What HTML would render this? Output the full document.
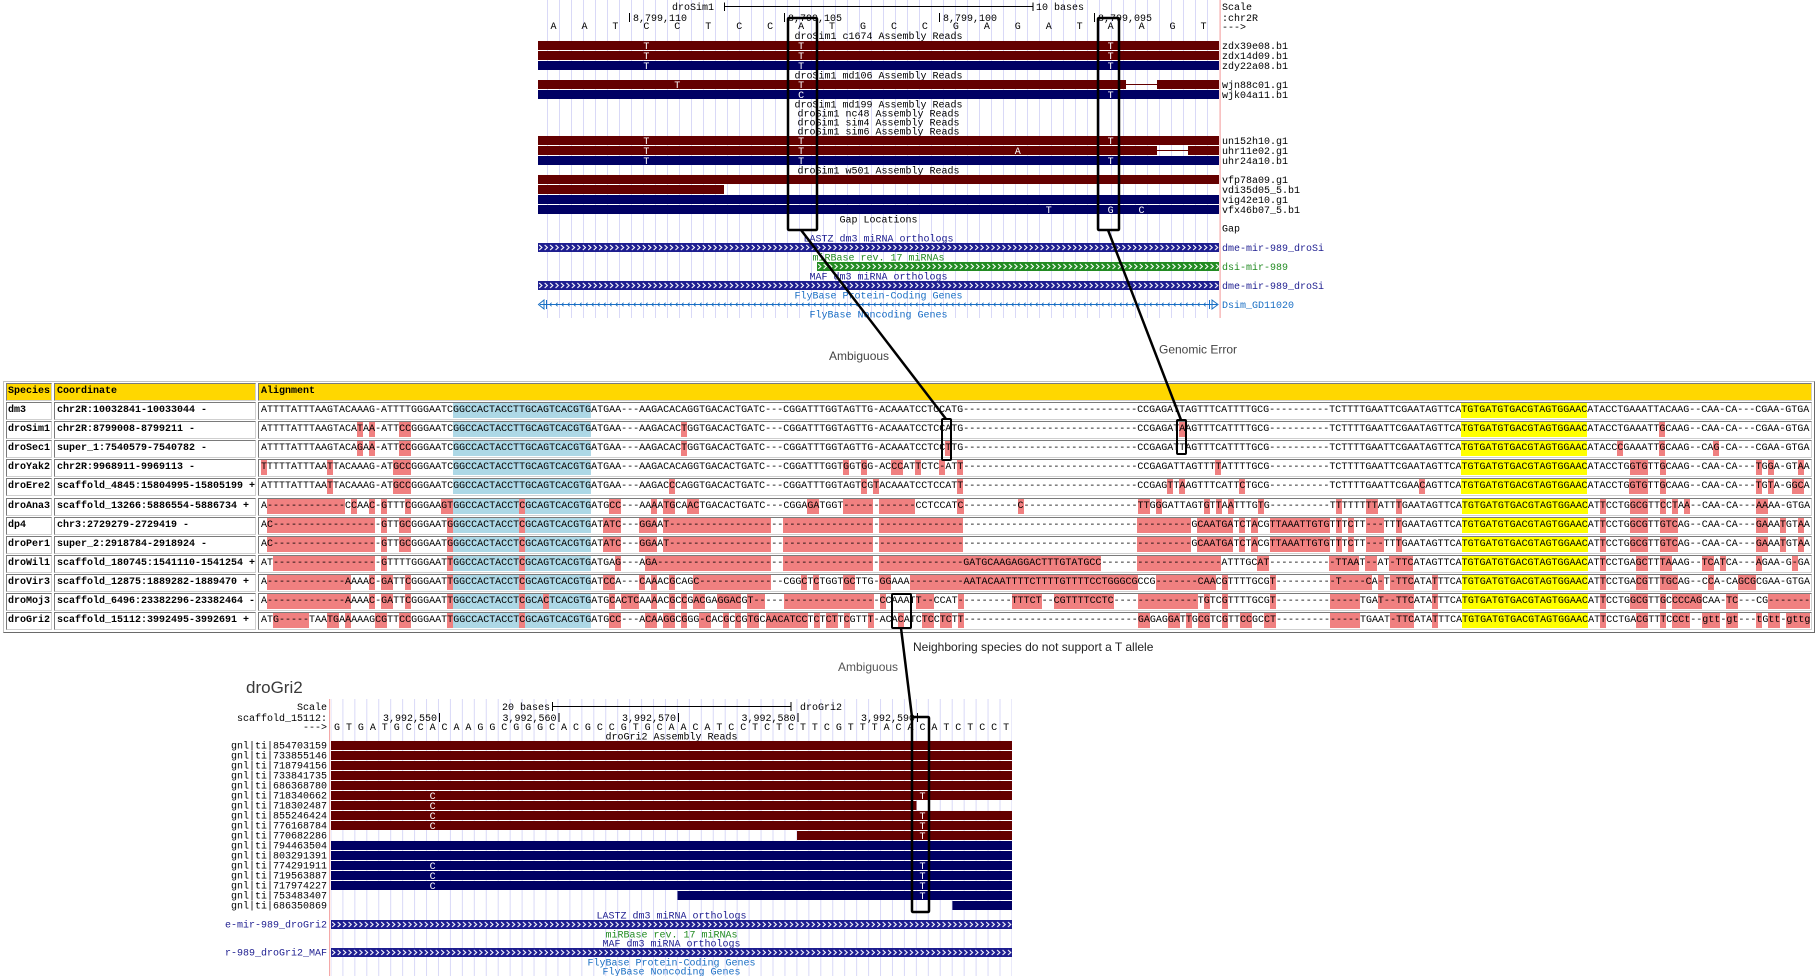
<!DOCTYPE html>
<html><head><meta charset="utf-8"><style>
body{margin:0;width:1819px;height:976px;position:relative;background:#fff;overflow:hidden}
.t{position:absolute;left:3px;top:381px;width:1810px;height:250px;border:1px solid;border-color:#c0c0c0 #6a6a6a #6a6a6a #c0c0c0}
.c{position:absolute;height:16px;border:1px solid;border-color:#7a7a7a #cfcfcf #cfcfcf #7a7a7a;font:10px/16px "Liberation Mono",monospace;white-space:pre;overflow:hidden;color:#000}
.s{left:6px;width:43px;padding-left:1px;font-weight:bold}
.k{left:54px;width:198px;padding-left:2px;font-weight:bold}
.a{left:258px;width:1550px;padding-left:2px}
.h{background:#ffd700;font-weight:bold}
u{text-decoration:none;background:#f08080;padding:2px 0}
em{font-style:normal;background:#add8e6;padding:2px 0}
mark{background:#ffff00;color:#000;padding:2px 0}
svg{position:absolute;left:0;top:0}
</style></head><body>
<div class="t"></div>
<div class="c s h" style="top:383px">Species</div><div class="c k h" style="top:383px">Coordinate</div><div class="c a h" style="top:383px">Alignment</div>

<div class="c s" style="top:402px">dm3</div><div class="c k" style="top:402px">chr2R:10032841-10033044 -</div><div class="c a" style="top:402px">ATTTTATTTAAGTACAAAG-ATTTTGGGAATC<em>GGCCACTACCTTGCAGTCACGTG</em>ATGAA---AAGACACAGGTGACACTGATC---CGGATTTGGTAGTTG-ACAAATCCTCCATG-----------------------------CCGAGATTAGTTTCATTTTGCG----------TCTTTTGAATTCGAATAGTTCA<mark>TGTGATGTGACGTAGTGGAAC</mark>ATACCTGAAATTACAAG--CAA-CA---CGAA-GTGA</div>

<div class="c s" style="top:421px">droSim1</div><div class="c k" style="top:421px">chr2R:8799008-8799211 -</div><div class="c a" style="top:421px">ATTTTATTTAAGTACA<u>T</u>A<u>A</u>-ATT<u>CC</u>GGGAATC<em>GGCCACTACCTTGCAGTCACGTG</em>ATGAA---AAGACAC<u>T</u>GGTGACACTGATC---CGGATTTGGTAGTTG-ACAAATCCTCCATG-----------------------------CCGAGAT<u>A</u>AGTTTCATTTTGCG----------TCTTTTGAATTCGAATAGTTCA<mark>TGTGATGTGACGTAGTGGAAC</mark>ATACCTGAAATT<u>G</u>CAAG--CAA-CA---CGAA-GTGA</div>

<div class="c s" style="top:440px">droSec1</div><div class="c k" style="top:440px">super_1:7540579-7540782 -</div><div class="c a" style="top:440px">ATTTTATTTAAGTACA<u>G</u>A<u>A</u>-ATT<u>CC</u>GGGAATC<em>GGCCACTACCTTGCAGTCACGTG</em>ATGAA---AAGACAC<u>T</u>GGTGACACTGATC---CGGATTTGGTAGTTG-ACAAATCCTCC<u>T</u>TG-----------------------------CCGAGATTAGTTTCATTTTGCG----------TCTTTTGAATTCGAATAGTTCA<mark>TGTGATGTGACGTAGTGGAAC</mark>ATACC<u>C</u>GAAATT<u>G</u>CAAG--CA<u>G</u>-CA---CGAA-GTGA</div>

<div class="c s" style="top:459px">droYak2</div><div class="c k" style="top:459px">chr2R:9968911-9969113 -</div><div class="c a" style="top:459px"><u>T</u>TTTTATTTAA<u>T</u>TACAAAG-AT<u>GCC</u>GGGAATC<em>GGCCACTACCTTGCAGTCACGTG</em>ATGAA---AAGACACAGGTGACACTGATC---CGGATTTGGT<u>G</u>GT<u>G</u>G-AC<u>CC</u>AT<u>T</u>CTC<u>-</u>AT<u>T</u>-----------------------------CCGAGATTAGTTT<u>T</u>ATTTTGCG----------TCTTTTGAATTCGAATAGTTCA<mark>TGTGATGTGACGTAGTGGAAC</mark>ATACCTG<u>GTG</u>TT<u>G</u>CAAG--CAA-CA---<u>T</u>G<u>G</u>A-GT<u>A</u>A</div>

<div class="c s" style="top:478px">droEre2</div><div class="c k" style="top:478px">scaffold_4845:15804995-15805199 +</div><div class="c a" style="top:478px">ATTTTATTTAA<u>T</u>TACAAAG-AT<u>GCC</u>GGGAATC<em>GGCCACTACCTTGCAGTCACGTG</em>ATGAA---AAGAC<u>C</u>CAGGTGACACTGATC---CGGATTTGGTAGT<u>C</u>G<u>T</u>ACAAATCCTCCAT<u>T</u>-----------------------------CCGAG<u>T</u>T<u>A</u>AGTTTCATT<u>C</u>TGCG----------TCTTTTGAATTCGAA<u>C</u>AGTTCA<mark>TGTGATGTGACGTAGTGGAAC</mark>ATACCTG<u>GTG</u>TT<u>G</u>CAAG--CAA-CA---<u>T</u>G<u>T</u>A-G<u>GC</u>A</div>

<div class="c s" style="top:498px">droAna3</div><div class="c k" style="top:498px">scaffold_13266:5886554-5886734 +</div><div class="c a" style="top:498px">A<u>-------------</u>C<u>C</u>AA<u>C</u>-<u>G</u>TTT<u>C</u>GGGAA<u>GT</u><em>GGCCACTACCT<u>C</u>GCAGTCACGTG</em>ATG<u>CC</u>---AA<u>A</u>A<u>TG</u>CA<u>AC</u>TGACACTGATC---CGGA<u>GA</u>TGGT<u>-----</u>-<u>------</u>CCTCCAT<u>C</u>---------<u>C</u>-------------------<u>TT</u>G<u>G</u>GATTAGT<u>G</u>T<u>T</u>A<u>A</u>TTTG<u>T</u>G----------T<u>T</u>TTTT<u>TT</u>ATT<u>T</u>GAATAGTTCA<mark>TGTGATGTGACGTAGTGGAAC</mark>AT<u>T</u>CCTG<u>GCG</u>TT<u>C</u>C<u>T</u>A<u>A</u>--CAA-CA---<u>AA</u>AA-GTGA</div>

<div class="c s" style="top:517px">dp4</div><div class="c k" style="top:517px">chr3:2729279-2729419 -</div><div class="c a" style="top:517px">A<u>C-----------------</u>-<u>G</u>TT<u>GC</u>GGGAAT<u>G</u><em>GGCCACTACCT<u>C</u>GCAGTCACGTG</em>AT<u>ATC</u>---<u>GGA</u>A<u>T-----------------</u>--<u>---------------</u>-<u>--------------</u>-----------------------------<u>---------</u>G<u>CAATGA</u>T<u>C</u>T<u>A</u>CG<u>TTAAATTGTG</u>T<u>T</u>T<u>C</u>TT<u>---</u>TT<u>T</u>GAATAGTTCA<mark>TGTGATGTGACGTAGTGGAAC</mark>AT<u>T</u>CCTG<u>GCG</u>TT<u>GTC</u>AG--CAA-CA---<u>GA</u>AA<u>T</u>GT<u>A</u>A</div>

<div class="c s" style="top:536px">droPer1</div><div class="c k" style="top:536px">super_2:2918784-2918924 -</div><div class="c a" style="top:536px">A<u>C-----------------</u>-<u>G</u>TT<u>GC</u>GGGAAT<u>G</u><em>GGCCACTACCT<u>C</u>GCAGTCACGTG</em>AT<u>ATC</u>---<u>GGA</u>A<u>T-----------------</u>--<u>---------------</u>-<u>--------------</u>-----------------------------<u>---------</u>G<u>CAATGA</u>T<u>C</u>T<u>A</u>CG<u>TTAAATTGTG</u>T<u>T</u>T<u>C</u>TT<u>---</u>TT<u>T</u>GAATAGTTCA<mark>TGTGATGTGACGTAGTGGAAC</mark>AT<u>T</u>CCTG<u>GCG</u>TT<u>GTC</u>AG--CAA-CA---<u>GA</u>AA<u>T</u>GT<u>A</u>A</div>

<div class="c s" style="top:555px">droWil1</div><div class="c k" style="top:555px">scaffold_180745:1541110-1541254 +</div><div class="c a" style="top:555px">AT<u>-----------------</u>-<u>G</u>TTTTGGGAAT<u>T</u><em>GGCCACTACCT<u>C</u>GCAGTCACGTG</em>ATGA<u>G</u>---A<u>GA-------------------</u>--<u>---------------</u>-<u>--------------</u><u>GATGCAAGAGGACTTTGTATGCC</u>------<u>--------------</u>ATTTGC<u>AT</u>----------<u>-TTAA</u>T<u>--</u>AT<u>-TTC</u>ATAGTTCA<mark>TGTGATGTGACGTAGTGGAAC</mark>AT<u>T</u>CCTGA<u>GC</u>TT<u>TA</u>AAG--<u>TC</u>A<u>T</u>CA---<u>A</u>GAA-G<u>-</u>GA</div>

<div class="c s" style="top:574px">droVir3</div><div class="c k" style="top:574px">scaffold_12875:1889282-1889470 +</div><div class="c a" style="top:574px">A<u>-------------A</u>AAA<u>C</u>-<u>GA</u>TT<u>C</u>GGGAAT<u>T</u><em>GGCCACTACCT<u>C</u>GCAGTCACGTG</em>AT<u>CC</u>A---<u>C</u>A<u>A</u>AC<u>G</u>CAG<u>C------------</u>--CGG<u>C</u>T<u>C</u>TGGT<u>GC</u>TTG-<u>GG</u>AAA<u>---------</u><u>AATACAATTTTCTTTTGTTTTCCTGGGCG</u>CCG<u>-------CAA</u>C<u>G</u>TTTTGCG<u>T</u>---------<u>-T----C</u>A<u>-</u>T<u>-TTC</u>ATA<u>T</u>TTCA<mark>TGTGATGTGACGTAGTGGAAC</mark>AT<u>T</u>CCTGA<u>CG</u>TT<u>TGC</u>AG--C<u>C</u>A-CA<u>GCG</u>CGAA-GTGA</div>

<div class="c s" style="top:593px">droMoj3</div><div class="c k" style="top:593px">scaffold_6496:23382296-23382464 -</div><div class="c a" style="top:593px">A<u>-------------A</u>AAA<u>C</u>-<u>GA</u>TT<u>C</u>GGGAAT<u>T</u><em>GGCCACTACCT<u>C</u>GCA<u>C</u>TCACGTG</em>ATG<u>C</u>A<u>CTC</u>AA<u>A</u>AC<u>G</u>C<u>C</u>G<u>AC</u>GA<u>GGAC</u>G<u>T--</u>---<u>---------------</u>-<u>C</u>CAAAT<u>T--</u>CCAT<u>-</u>--------<u>TTTCT</u>--<u>CGTTTTCCTC</u>----<u>----------</u>T<u>G</u>TC<u>G</u>TTTTGCG<u>T</u>---------<u>-----</u>TGA<u>T--TTC</u>ATA<u>T</u>TTCA<mark>TGTGATGTGACGTAGTGGAAC</mark>AT<u>T</u>CCTG<u>GCG</u>TT<u>G</u>C<u>CCCAG</u>CAA-<u>TC</u>---CG<u>-------</u></div>

<div class="c s" style="top:612px">droGri2</div><div class="c k" style="top:612px">scaffold_15112:3992495-3992691 +</div><div class="c a" style="top:612px">AT<u>G-----</u>TAA<u>TG</u>A<u>A</u>AAAG<u>CG</u>TT<u>CC</u>GGGAAT<u>T</u><em>GGCCACTACCT<u>C</u>GCAGTCACGTG</em>ATG<u>CC</u>---A<u>CA</u>A<u>GG</u>C<u>G</u>GG<u>-C</u>AC<u>G</u>C<u>C</u>G<u>TG</u>C<u>A</u><u>ACATCC</u>T<u>C</u>T<u>CT</u>T<u>C</u>GTT<u>T</u>-ACA<u>C</u>ATC<u>TC</u>C<u>TC</u>T<u>T</u>-----------------------------<u>GA</u>GAG<u>GA</u>T<u>T</u>G<u>CG</u>TC<u>G</u>TT<u>CC</u>GC<u>CT</u>---------<u>-----</u>TGAAT<u>-TTC</u>ATA<u>T</u>TTCA<mark>TGTGATGTGACGTAGTGGAAC</mark>AT<u>T</u>CCTGA<u>CG</u>TT<u>T</u>C<u>CCt</u>--<u>gtt</u>-<u>gt</u>---<u>t</u>G<u>tt</u>-<u>gttg</u></div>

<svg width="1819" height="976" viewBox="0 0 1819 976" font-family="'Liberation Mono',monospace" font-size="10">
<defs>
<pattern id="g1" x="547" y="0" width="12" height="10" patternUnits="userSpaceOnUse"><rect width="1" height="10" fill="#d9d9f7"/></pattern>
<pattern id="g2" x="342.4" y="0" width="11.947" height="10" patternUnits="userSpaceOnUse"><rect width="1" height="10" fill="#d9d9f7"/></pattern>
<pattern id="cv" width="5.45" height="9" patternUnits="userSpaceOnUse"><path d="M1.2,2 L3.9,4.5 L1.2,7" stroke="#fff" stroke-width="1.1" fill="none"/></pattern>
<pattern id="lv" width="6" height="6" patternUnits="userSpaceOnUse"><path d="M3.6,1.2 L1.8,3 L3.6,4.8" stroke="#1a6fc4" stroke-width="0.9" fill="none"/></pattern>
</defs>

<!-- TOP BROWSER -->
<rect x="538" y="0" width="681" height="318" fill="url(#g1)"/>
<rect x="1219.5" y="0" width="1.2" height="318" fill="#f4a8a8"/>
<text x="714" y="10.2" text-anchor="end">droSim1</text>
<path d="M724.5,2.5V11 M724.5,6.5H1033 M1033,2.5V11" stroke="#000" fill="none"/>
<text x="1036" y="10.2">10 bases</text>
<path d="M629.5,13V22 M784.5,13V22 M939.5,13V22 M1094.5,13V22" stroke="#000"/>
<text x="633" y="21.2">8,799,110</text>
<text x="788" y="21.2">8,799,105</text>
<text x="943" y="21.2">8,799,100</text>
<text x="1098" y="21.2">8,799,095</text>
<text x="550.5" y="29.2" letter-spacing="24.95">AATCCTCCATGCCGAGATAAGT</text>

<g text-anchor="middle">
<text x="878.5" y="39.2">droSim1 c1674 Assembly Reads</text>
<text x="878.5" y="78.5">droSim1 md106 Assembly Reads</text>
<text x="878.5" y="107.5">droSim1 md199 Assembly Reads</text>
<text x="878.5" y="116.5">droSim1 nc48 Assembly Reads</text>
<text x="878.5" y="125.5">droSim1 sim4 Assembly Reads</text>
<text x="878.5" y="134.5">droSim1 sim6 Assembly Reads</text>
<text x="878.5" y="173.5">droSim1 w501 Assembly Reads</text>
<text x="878.5" y="222.5">Gap Locations</text>
<text x="878.5" y="241.5" fill="#1e1e90">LASTZ dm3 miRNA orthologs</text>
<text x="878.5" y="260.5" fill="#228b22">miRBase rev. 17 miRNAs</text>
<text x="878.5" y="279.5" fill="#1e1e90">MAF dm3 miRNA orthologs</text>
<text x="878.5" y="298.5" fill="#1a6fc4">FlyBase Protein-Coding Genes</text>
<text x="878.5" y="317.5" fill="#1a6fc4">FlyBase Noncoding Genes</text>
</g>

<g>
<rect x="538" y="41" width="681" height="9" fill="#640000"/>
<rect x="538" y="51" width="681" height="9" fill="#640000"/>
<rect x="538" y="61" width="681" height="9" fill="#000064"/>
<rect x="538" y="80" width="588" height="9" fill="#640000"/>
<line x1="1126" y1="84.5" x2="1157" y2="84.5" stroke="#640000"/>
<rect x="1157" y="80" width="62" height="9" fill="#640000"/>
<rect x="538" y="90" width="681" height="9" fill="#000064"/>
<rect x="538" y="136" width="681" height="9" fill="#640000"/>
<rect x="538" y="146" width="619" height="9" fill="#640000"/>
<line x1="1157" y1="150.5" x2="1188" y2="150.5" stroke="#640000"/>
<rect x="1188" y="146" width="31" height="9" fill="#640000"/>
<rect x="538" y="156" width="681" height="9" fill="#000064"/>
<rect x="538" y="175" width="681" height="9" fill="#640000"/>
<rect x="538" y="185" width="186" height="9" fill="#640000"/>
<rect x="538" y="195" width="681" height="9" fill="#000064"/>
<rect x="538" y="205" width="681" height="9" fill="#000064"/>
</g>
<g fill="#fff" text-anchor="middle">
<text x="646.35" y="48.8">T</text><text x="801.1" y="48.8">T</text><text x="1110.6" y="48.8">T</text>
<text x="646.35" y="58.8">T</text><text x="801.1" y="58.8">T</text><text x="1110.6" y="58.8">T</text>
<text x="646.35" y="68.8">T</text><text x="801.1" y="68.8">T</text><text x="1110.6" y="68.8">T</text>
<text x="677.3" y="87.8">T</text><text x="801.1" y="87.8">T</text>
<text x="801.1" y="97.8">C</text><text x="1110.6" y="97.8">T</text>
<text x="646.35" y="143.8">T</text><text x="801.1" y="143.8">T</text><text x="1110.6" y="143.8">T</text>
<text x="646.35" y="153.8">T</text><text x="801.1" y="153.8">T</text><text x="1017.75" y="153.8">A</text>
<text x="646.35" y="163.8">T</text><text x="801.1" y="163.8">T</text><text x="1110.6" y="163.8">T</text>
<text x="1048.7" y="212.8">T</text><text x="1110.6" y="212.8">G</text><text x="1141.55" y="212.8">C</text>
</g>

<g transform="translate(538,243)"><rect width="681" height="9" fill="#1e1e90"/><rect width="681" height="9" fill="url(#cv)"/></g>
<g transform="translate(817,262)"><rect width="402" height="9" fill="#228b22"/><rect width="402" height="9" fill="url(#cv)"/></g>
<g transform="translate(538,281)"><rect width="681" height="9" fill="#1e1e90"/><rect width="681" height="9" fill="url(#cv)"/></g>
<line x1="540" y1="304.5" x2="1217" y2="304.5" stroke="#1a6fc4" stroke-width="1"/>
<g transform="translate(548,301.5)"><rect width="660" height="6" fill="url(#lv)"/></g>
<path d="M544,300 L538.5,304.5 L544,309 Z M546.5,300 V309" stroke="#1a6fc4" fill="none"/>
<path d="M1212,300 L1218,304.5 L1212,309 Z M1209.5,300 V309" stroke="#1a6fc4" fill="none"/>

<g>
<text x="1222" y="10.2">Scale</text>
<text x="1222" y="21.2">:chr2R</text>
<text x="1222" y="30.2">---&gt;</text>
<text x="1222" y="49">zdx39e08.b1</text>
<text x="1222" y="59">zdx14d09.b1</text>
<text x="1222" y="69">zdy22a08.b1</text>
<text x="1222" y="88">wjn88c01.g1</text>
<text x="1222" y="98">wjk04a11.b1</text>
<text x="1222" y="144">un152h10.g1</text>
<text x="1222" y="154">uhr11e02.g1</text>
<text x="1222" y="164">uhr24a10.b1</text>
<text x="1222" y="183">vfp78a09.g1</text>
<text x="1222" y="193">vdi35d05_5.b1</text>
<text x="1222" y="203">vig42e10.g1</text>
<text x="1222" y="213">vfx46b07_5.b1</text>
<text x="1222" y="231.5">Gap</text>
<text x="1222" y="251" fill="#1e1e90">dme-mir-989_droSi</text>
<text x="1222" y="270" fill="#228b22">dsi-mir-989</text>
<text x="1222" y="289" fill="#1e1e90">dme-mir-989_droSi</text>
<text x="1222" y="308" fill="#1a6fc4">Dsim_GD11020</text>
</g>

<!-- BOTTOM BROWSER -->
<text x="246" y="693" font-family="'Liberation Sans',Arial,sans-serif" font-size="17" fill="#3a3a3a">droGri2</text>
<rect x="331" y="699" width="681" height="277" fill="url(#g2)"/>
<rect x="329" y="699" width="1.2" height="277" fill="#f4a8a8"/>
<g text-anchor="end">
<text x="327" y="710.2">Scale</text>
<text x="327" y="721.2">scaffold_15112:</text>
<text x="327" y="730.2">---&gt;</text>
<text x="327" y="748.5">gnl|ti|854703159</text>
<text x="327" y="758.5">gnl|ti|733855146</text>
<text x="327" y="768.5">gnl|ti|718794156</text>
<text x="327" y="778.5">gnl|ti|733841735</text>
<text x="327" y="788.5">gnl|ti|686368780</text>
<text x="327" y="798.5">gnl|ti|718340662</text>
<text x="327" y="808.5">gnl|ti|718302487</text>
<text x="327" y="818.5">gnl|ti|855246424</text>
<text x="327" y="828.5">gnl|ti|776168784</text>
<text x="327" y="838.5">gnl|ti|770682286</text>
<text x="327" y="848.5">gnl|ti|794463504</text>
<text x="327" y="858.5">gnl|ti|803291391</text>
<text x="327" y="868.5">gnl|ti|774291911</text>
<text x="327" y="878.5">gnl|ti|719563887</text>
<text x="327" y="888.5">gnl|ti|717974227</text>
<text x="327" y="898.5">gnl|ti|753483407</text>
<text x="327" y="908.5">gnl|ti|686350869</text>
<text x="327" y="927.5" fill="#1e1e90">e-mir-989_droGri2</text>
<text x="327" y="955.5" fill="#1e1e90">r-989_droGri2_MAF</text>
<text x="437" y="721.2">3,992,550</text>
<text x="556.5" y="721.2">3,992,560</text>
<text x="676" y="721.2">3,992,570</text>
<text x="795.5" y="721.2">3,992,580</text>
<text x="915" y="721.2">3,992,590</text>
</g>
<text x="502" y="710.2">20 bases</text>
<path d="M552.5,702V711 M552.5,706.5H791 M791,702V711" stroke="#000" fill="none"/>
<text x="800" y="710.2">droGri2</text>
<path d="M439.5,713V722 M559,713V722 M678.5,713V722 M798,713V722 M917.5,713V722" stroke="#000"/>
<text x="334" y="730.2" letter-spacing="5.947">GTGATGCCACAAGGCGGGCACGCCGTGCAACATCCTCTCTTCGTTTACACATCTCCT</text>

<g text-anchor="middle">
<text x="671.5" y="739.5">droGri2 Assembly Reads</text>
<text x="671.5" y="918.5" fill="#1e1e90">LASTZ dm3 miRNA orthologs</text>
<text x="671.5" y="937.5" fill="#228b22">miRBase rev. 17 miRNAs</text>
<text x="671.5" y="946.5" fill="#1e1e90">MAF dm3 miRNA orthologs</text>
<text x="671.5" y="965.5" fill="#1a6fc4">FlyBase Protein-Coding Genes</text>
<text x="671.5" y="974.5" fill="#1a6fc4">FlyBase Noncoding Genes</text>
</g>

<g>
<rect x="331" y="741" width="681" height="9" fill="#640000"/>
<rect x="331" y="751" width="681" height="9" fill="#640000"/>
<rect x="331" y="761" width="681" height="9" fill="#640000"/>
<rect x="331" y="771" width="681" height="9" fill="#640000"/>
<rect x="331" y="781" width="681" height="9" fill="#640000"/>
<rect x="331" y="791" width="681" height="9" fill="#640000"/>
<rect x="331" y="801" width="585.5" height="9" fill="#640000"/>
<rect x="331" y="811" width="681" height="9" fill="#640000"/>
<rect x="331" y="821" width="681" height="9" fill="#640000"/>
<rect x="797" y="831" width="215" height="9" fill="#640000"/>
<rect x="331" y="841" width="681" height="9" fill="#000064"/>
<rect x="331" y="851" width="681" height="9" fill="#000064"/>
<rect x="331" y="861" width="681" height="9" fill="#000064"/>
<rect x="331" y="871" width="681" height="9" fill="#000064"/>
<rect x="331" y="881" width="681" height="9" fill="#000064"/>
<rect x="677.5" y="891" width="334.5" height="9" fill="#000064"/>
<rect x="952.4" y="901" width="59.6" height="9" fill="#000064"/>
</g>
<g fill="#fff" text-anchor="middle">
<text x="432.6" y="798.8">C</text><text x="922.5" y="798.8">T</text>
<text x="432.6" y="808.8">C</text>
<text x="432.6" y="818.8">C</text><text x="922.5" y="818.8">T</text>
<text x="432.6" y="828.8">C</text><text x="922.5" y="828.8">T</text>
<text x="922.5" y="838.8">T</text>
<text x="432.6" y="868.8">C</text><text x="922.5" y="868.8">T</text>
<text x="432.6" y="878.8">C</text><text x="922.5" y="878.8">T</text>
<text x="432.6" y="888.8">C</text><text x="922.5" y="888.8">T</text>
<text x="922.5" y="898.8">T</text>
</g>
<g transform="translate(331,920)"><rect width="681" height="9" fill="#1e1e90"/><rect width="681" height="9" fill="url(#cv)"/></g>
<g transform="translate(331,948)"><rect width="681" height="9" fill="#1e1e90"/><rect width="681" height="9" fill="url(#cv)"/></g>

<!-- BOXES AND CONNECTORS -->
<g fill="none" stroke="#000" stroke-width="2.5">
<rect x="788" y="18" width="29" height="212" rx="1"/>
<rect x="1098" y="18" width="21" height="212" rx="1"/>
<rect x="942" y="419" width="9" height="41" rx="1" stroke-width="2"/>
<rect x="1177" y="420" width="9" height="34" rx="1" stroke-width="2"/>
<rect x="892" y="594" width="19" height="34" rx="1" stroke-width="2"/>
<rect x="912" y="717" width="17" height="195" rx="1"/>
<line x1="801" y1="230" x2="946" y2="419"/>
<line x1="1108" y1="230" x2="1181" y2="420"/>
<line x1="901" y1="628" x2="912" y2="717"/>
</g>

<g font-family="'Liberation Sans',Arial,sans-serif" font-size="12">
<text x="829" y="360" fill="#444">Ambiguous</text>
<text x="1159" y="353.3" fill="#444">Genomic Error</text>
<text x="913" y="651" fill="#222">Neighboring species do not support a T allele</text>
<text x="838" y="671" fill="#555">Ambiguous</text>
</g>
</svg>
</body></html>
